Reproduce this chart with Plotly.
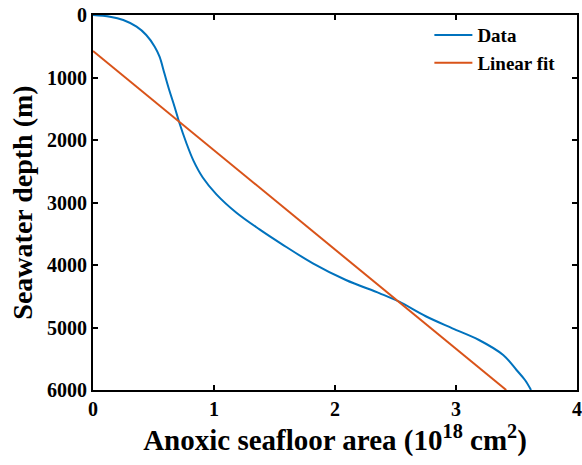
import plotly.graph_objects as go

# Data
data_area = [0.0, 0.14, 0.25, 0.36, 0.44, 0.51, 0.55, 0.59, 0.63, 0.674, 0.715, 0.77, 0.83,
             0.907, 1.02, 1.183, 1.376, 1.56, 1.817, 2.09, 2.37, 2.53, 2.75, 2.97, 3.19,
             3.39, 3.50, 3.57, 3.62]
data_depth = [0, 27, 80, 187, 320, 507, 667, 933, 1200, 1467, 1733, 2040, 2330,
              2600, 2870, 3160, 3430, 3665, 3973, 4240, 4453, 4587, 4820, 5013, 5200,
              5440, 5680, 5840, 6000]

fit_area = [0.0, 3.415]
fit_depth = [575, 6000]

x_ticks = [0, 1, 2, 3, 4]
y_ticks = [0, 1000, 2000, 3000, 4000, 5000, 6000]

FONT = "Liberation Serif"

fig = go.Figure()
fig.add_trace(go.Scatter(x=data_area, y=data_depth, mode="lines", name="<b>Data</b>",
                         line=dict(color="#0072BD", width=2, shape="spline", smoothing=1.0)))
fig.add_trace(go.Scatter(x=fit_area, y=fit_depth, mode="lines", name="<b>Linear fit</b>",
                         line=dict(color="#D95319", width=2)))

axis_common = dict(showline=True, linecolor="black", linewidth=2, mirror="ticks",
                   ticks="inside", ticklen=5, tickwidth=1.5, tickcolor="black",
                   showgrid=False, zeroline=False, automargin=False,
                   tickfont=dict(family=FONT, size=20, color="black"))

fig.update_layout(
    width=582, height=465,
    margin=dict(l=93, r=5, t=15, b=75),
    plot_bgcolor="white", paper_bgcolor="white",
    font=dict(family=FONT, color="black"),
    xaxis=dict(range=[0, 4], tickvals=x_ticks, ticktext=[f"<b>{v}</b>" for v in x_ticks],
               title=dict(text="<b>Anoxic seafloor area (10<sup>18</sup> cm<sup>2</sup>)</b>",
                          font=dict(family=FONT, size=29, color="black"), standoff=8),
               **axis_common),
    yaxis=dict(range=[6000, 0], tickvals=y_ticks, ticktext=[f"<b>{v}</b>" for v in y_ticks],
               title=dict(text="<b>Seawater depth (m)</b>",
                          font=dict(family=FONT, size=28, color="black"), standoff=6),
               **axis_common),
    legend=dict(x=0.695, y=0.997, xanchor="left", yanchor="top",
                bgcolor="rgba(0,0,0,0)", borderwidth=0,
                font=dict(family=FONT, size=19, color="black"),
                tracegroupgap=0, itemwidth=38),
    showlegend=True,
)

fig.write_html("out.html", config={"displayModeBar": False},
               post_script="document.body.style.margin='0';")
